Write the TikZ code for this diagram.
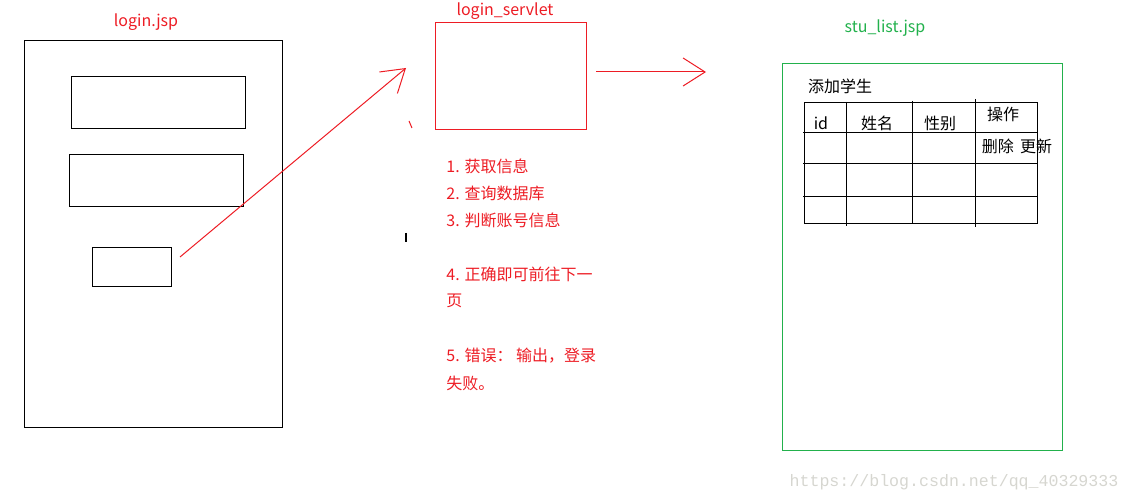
\documentclass[tikz,border=0pt]{standalone}
\usepackage{fontspec}
\setmainfont{Noto Sans CJK SC}
\newfontfamily\wmfont{Liberation Mono}
\usetikzlibrary{arrows.meta}
\definecolor{paintred}{RGB}{237,28,36}
\definecolor{paintgreen}{RGB}{34,177,76}
\definecolor{wmgray}{RGB}{214,214,208}

\begin{document}
\begin{tikzpicture}[x=0.5pt,y=-0.5pt,
    font=\fontsize{8}{10}\selectfont,
    box/.style={draw,line width=0.5pt,inner sep=0pt,outer sep=0pt},
    redline/.style={draw=paintred,line width=0.5pt},
    barb/.style={-{Straight Barb[length=11pt,width=14pt,line width=0.5pt]}},
    note/.style={text=paintred,anchor=west,inner sep=0pt}]
  \useasboundingbox (0,0) rectangle (1130,502);
  % login.jsp
  \node[text=paintred] (loginlbl) at (146,22) {login.jsp};
  \node[box,minimum width=129pt,minimum height=193pt] (loginpage) at (153,234) {};
  \node[box,minimum width=87pt,minimum height=26pt] (userfield) at (158,103) {};
  \node[box,minimum width=87pt,minimum height=26pt] (passfield) at (156,181) {};
  \node[box,minimum width=39.5pt,minimum height=19.5pt] (submit) at (131.5,267.5) {};
  \coordinate (send) at (180,257);
  \coordinate (recv) at (406,68);
  \draw[redline,barb] (send) -- (recv);
  \draw[redline] (409,121) -- (412,128);
  \draw[line width=1pt] (406,233) -- (406,242);
  % login_servlet
  \node[text=paintred] (servletlbl) at (505,11) {login\_servlet};
  \node[box,draw=paintred,minimum width=75.5pt,minimum height=53.5pt] (servlet) at (510.5,76.5) {};
  \coordinate (fwdstart) at (596,72);
  \coordinate (fwdend) at (706,72);
  \draw[redline,barb] (fwdstart) -- (fwdend);
  \node[note] (step1) at (446,166) {1. 获取信息};
  \node[note] (step2) at (446,193) {2. 查询数据库};
  \node[note] (step3) at (446,220) {3. 判断账号信息};
  \node[note] (step4a) at (446,274) {4. 正确即可前往下一};
  \node[note] (step4b) at (446,301) {页};
  \node[note] (step5a) at (446,356) {5. 错误： 输出，登录};
  \node[note] (step5b) at (446,383) {失败。};
  % stu_list.jsp
  \node[text=paintgreen] (listlbl) at (885,28) {stu\_list.jsp};
  \node[box,draw=paintgreen,minimum width=140pt,minimum height=193pt] (listpage) at (922,257) {};
  \node (addstu) at (840,86) {添加学生};
  \draw[line width=0.5pt] (804,103) rectangle (1037,224);
  \foreach \y in {133,164,197}
    \draw[line width=0.5pt] (803,\y) -- (1038,\y);
  \foreach \x/\a/\b in {846/102/226,912/101/224,975/99/227}
    \draw[line width=0.5pt] (\x,\a) -- (\x,\b);
  \node (colid) at (821,123) {id};
  \node (colname) at (877,123) {姓名};
  \node (colsex) at (940,123) {性别};
  \node (colop) at (1003,114) {操作};
  \node (ops) at (1017,146) {删除\hspace{0.4em}更新};
  \node[text=wmgray,font=\wmfont\fontsize{8.3}{10}\selectfont] (watermark) at (954,482) {https://blog.csdn.net/qq\_40329333};
\end{tikzpicture}
\end{document}
